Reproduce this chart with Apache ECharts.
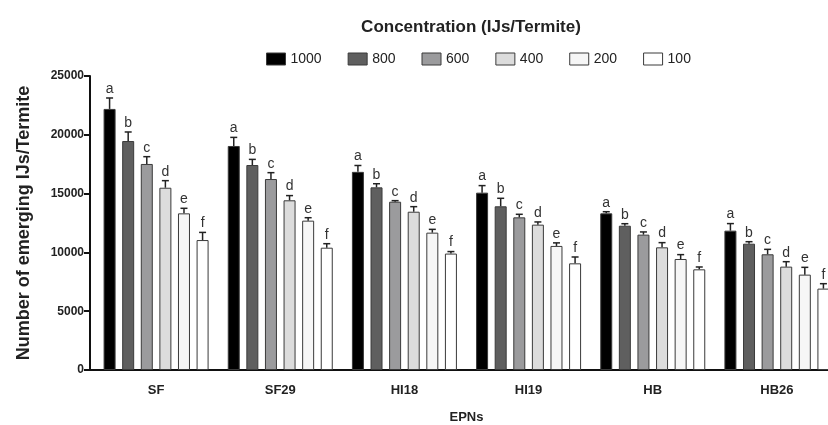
<!DOCTYPE html>
<html>
<head>
<meta charset="utf-8">
<script src="https://cdn.jsdelivr.net/npm/echarts@6/dist/echarts.min.js"></script>
<style>
  html, body { margin: 0; padding: 0; background: #fff; }
  #main { width: 828px; height: 425px; }
</style>
</head>
<body>
<div id="main"></div>
<script>
// 数据：EPN 品系与浓度
var epns = ['SF', 'SF29', 'HI18', 'HI19', 'HB', 'HB26'];
var concentrations = ['1000', '800', '600', '400', '200', '100'];
var letters = ['a', 'b', 'c', 'd', 'e', 'f'];

// 每个浓度一组均值（按 epns 顺序）
var mean1000 = [22200, 19050, 16850, 15080, 13320, 11850];
var mean800  = [19470, 17430, 15530, 13920, 12270, 10740];
var mean600  = [17520, 16240, 14310, 12980, 11510, 9840];
var mean400  = [15500, 14430, 13460, 12360, 10430, 8790];
var mean200  = [13320, 12700, 11680, 10550, 9440, 8110];
var mean100  = [11050, 10400, 9900, 9070, 8560, 6920];

// 误差（SE，只画上半部分）
var err1000 = [930, 730, 540, 600, 140, 600];
var err800  = [770, 480, 310, 680, 170, 170];
var err600  = [620, 540, 90, 260, 230, 420];
var err400  = [600, 400, 430, 230, 400, 420];
var err200  = [430, 250, 280, 260, 370, 620];
var err100  = [650, 340, 170, 540, 200, 420];

var means = [mean1000, mean800, mean600, mean400, mean200, mean100];
var errs = [err1000, err800, err600, err400, err200, err100];

var colors = ['#000000', '#5f5f5f', '#9b9b9d', '#dcdcdc', '#f6f6f6', '#ffffff'];
var font = '"Liberation Sans", Arial, sans-serif';

var barW = 12;
var gapW = 6.6;

var chart = echarts.init(document.getElementById('main'));

var series = [];
// 柱子
concentrations.forEach(function (c, i) {
    series.push({
        name: c,
        type: 'bar',
        data: means[i],
        barWidth: barW,
        barGap: (gapW / barW * 100).toFixed(0) + '%',
        barCategoryGap: '14%',
        itemStyle: { color: colors[i], borderColor: '#3a3a3a', borderWidth: 1 },
        z: 2
    });
});
// 误差线 + 字母标注
concentrations.forEach(function (c, i) {
    var data = epns.map(function (e, j) { return [j, means[i][j], errs[i][j]]; });
    series.push({
        name: c + '_err',
        type: 'custom',
        data: data,
        z: 3,
        renderItem: function (params, api) {
            var total = 6 * barW + 5 * gapW;
            var off = -total / 2 + i * (barW + gapW) + barW / 2;
            var base = api.coord([api.value(0), api.value(1)]);
            var top = api.coord([api.value(0), api.value(1) + api.value(2)]);
            var x = base[0] + off;
            return {
                type: 'group',
                children: [
                    { type: 'line', shape: { x1: x, y1: base[1], x2: x, y2: top[1] },
                      style: { stroke: '#222', lineWidth: 1.5 } },
                    { type: 'line', shape: { x1: x - 3.5, y1: top[1], x2: x + 3.5, y2: top[1] },
                      style: { stroke: '#222', lineWidth: 1.5 } },
                    { type: 'text', x: x, y: top[1] - 2,
                      style: { text: letters[i], fill: '#333', font: '14px ' + font,
                               textAlign: 'center', textVerticalAlign: 'bottom' } }
                ]
            };
        }
    });
});

var option = {
    backgroundColor: '#ffffff',
    animation: false,
    title: {
        text: 'Concentration (IJs/Termite)',
        left: 466, top: 14, textAlign: 'center',
        textStyle: { fontFamily: font, fontSize: 17, fontWeight: 'bold', color: '#222' }
    },
    legend: {
        data: concentrations.map(function (c) { return { name: c, icon: 'rect' }; }),
        top: 47, left: 261,
        itemWidth: 19, itemHeight: 12, itemGap: 26,
        textStyle: { fontFamily: font, fontSize: 14, color: '#222' },
        itemStyle: { borderColor: '#3a3a3a', borderWidth: 1 }
    },
    grid: { left: 94, right: -11, top: 76, bottom: 55, outerBoundsMode: 'none', containLabel: false },
    // 把 x 轴线接到 y 轴
    graphic: [{ type: 'line', shape: { x1: 89, y1: 370, x2: 95, y2: 370 },
                style: { stroke: '#111', lineWidth: 2 } }],
    xAxis: {
        type: 'category',
        data: epns,
        name: 'EPNs',
        nameLocation: 'middle',
        nameGap: 41,
        nameTextStyle: { fontFamily: font, fontSize: 13, fontWeight: 'bold', color: '#222' },
        axisLine: { lineStyle: { color: '#111', width: 2 } },
        axisTick: { alignWithLabel: true, length: 6, lineStyle: { color: '#111', width: 2 } },
        axisLabel: { fontFamily: font, fontSize: 13, fontWeight: 'bold', color: '#222', margin: 14 }
    },
    yAxis: {
        type: 'value',
        min: 0, max: 25000, interval: 5000,
        offset: 4,
        name: 'Number of emerging IJs/Termite',
        nameLocation: 'middle',
        nameGap: 57,
        nameTextStyle: { fontFamily: font, fontSize: 18, fontWeight: 'bold', color: '#222' },
        axisLine: { show: true, lineStyle: { color: '#111', width: 2 } },
        axisTick: { show: true, length: 6, lineStyle: { color: '#111', width: 2 } },
        axisLabel: { fontFamily: font, fontSize: 12, fontWeight: 'bold', color: '#222', margin: 6,
                     formatter: function (v) { return String(v); } },
        splitLine: { show: false }
    },
    series: series
};

chart.setOption(option);
</script>
</body>
</html>
